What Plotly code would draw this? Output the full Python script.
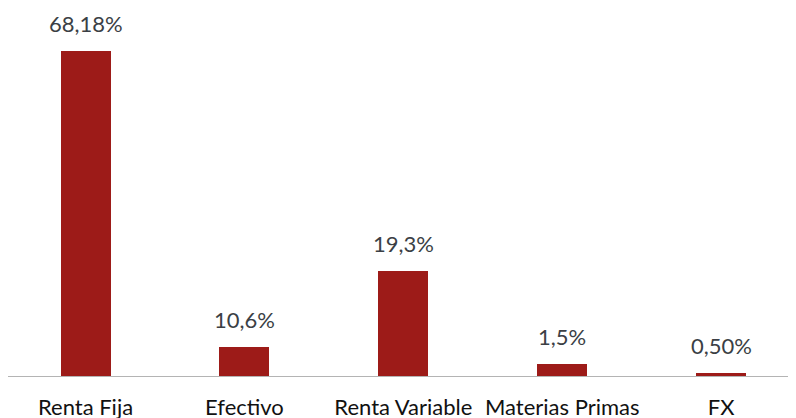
import plotly.graph_objects as go

categories = ["Renta Fija", "Efectivo", "Renta Variable", "Materias Primas", "FX"]
bar_values = [68.18, 6.0, 22.1, 2.5, 0.57]
value_labels = ["68,18%", "10,6%", "19,3%", "1,5%", "0,50%"]

BAR_COLOR = "#9d1b18"

fig = go.Figure()
fig.add_trace(go.Bar(
    x=categories,
    y=bar_values,
    width=0.315,
    marker=dict(color=BAR_COLOR, line=dict(width=0)),
    hoverinfo="skip",
))

for c, v, t in zip(categories, bar_values, value_labels):
    fig.add_annotation(
        x=c, y=v, xref="x", yref="y",
        text=t, showarrow=False,
        yanchor="bottom", yshift=12,
        font=dict(family="Lato", size=22, color="#3b3f45"),
    )

# page body has an 8px margin, so the figure is 8px smaller and offset
fig.update_layout(
    width=788, height=410,
    margin=dict(l=0, r=0, t=0, b=42),
    paper_bgcolor="white",
    plot_bgcolor="white",
    showlegend=False,
    bargap=0,
    xaxis=dict(
        range=[-0.488, 4.471],
        showline=True, linecolor="#b4b4b4", linewidth=1,
        showgrid=False, zeroline=False,
        ticks="", ticklabelstandoff=12,
        tickfont=dict(family="Lato", size=22, color="#111111"),
        automargin=False,
        fixedrange=True,
    ),
    yaxis=dict(
        range=[0, 77.2],
        visible=False,
        showgrid=False, zeroline=False,
        automargin=False,
        fixedrange=True,
    ),
)

fig.write_html("out.html")
